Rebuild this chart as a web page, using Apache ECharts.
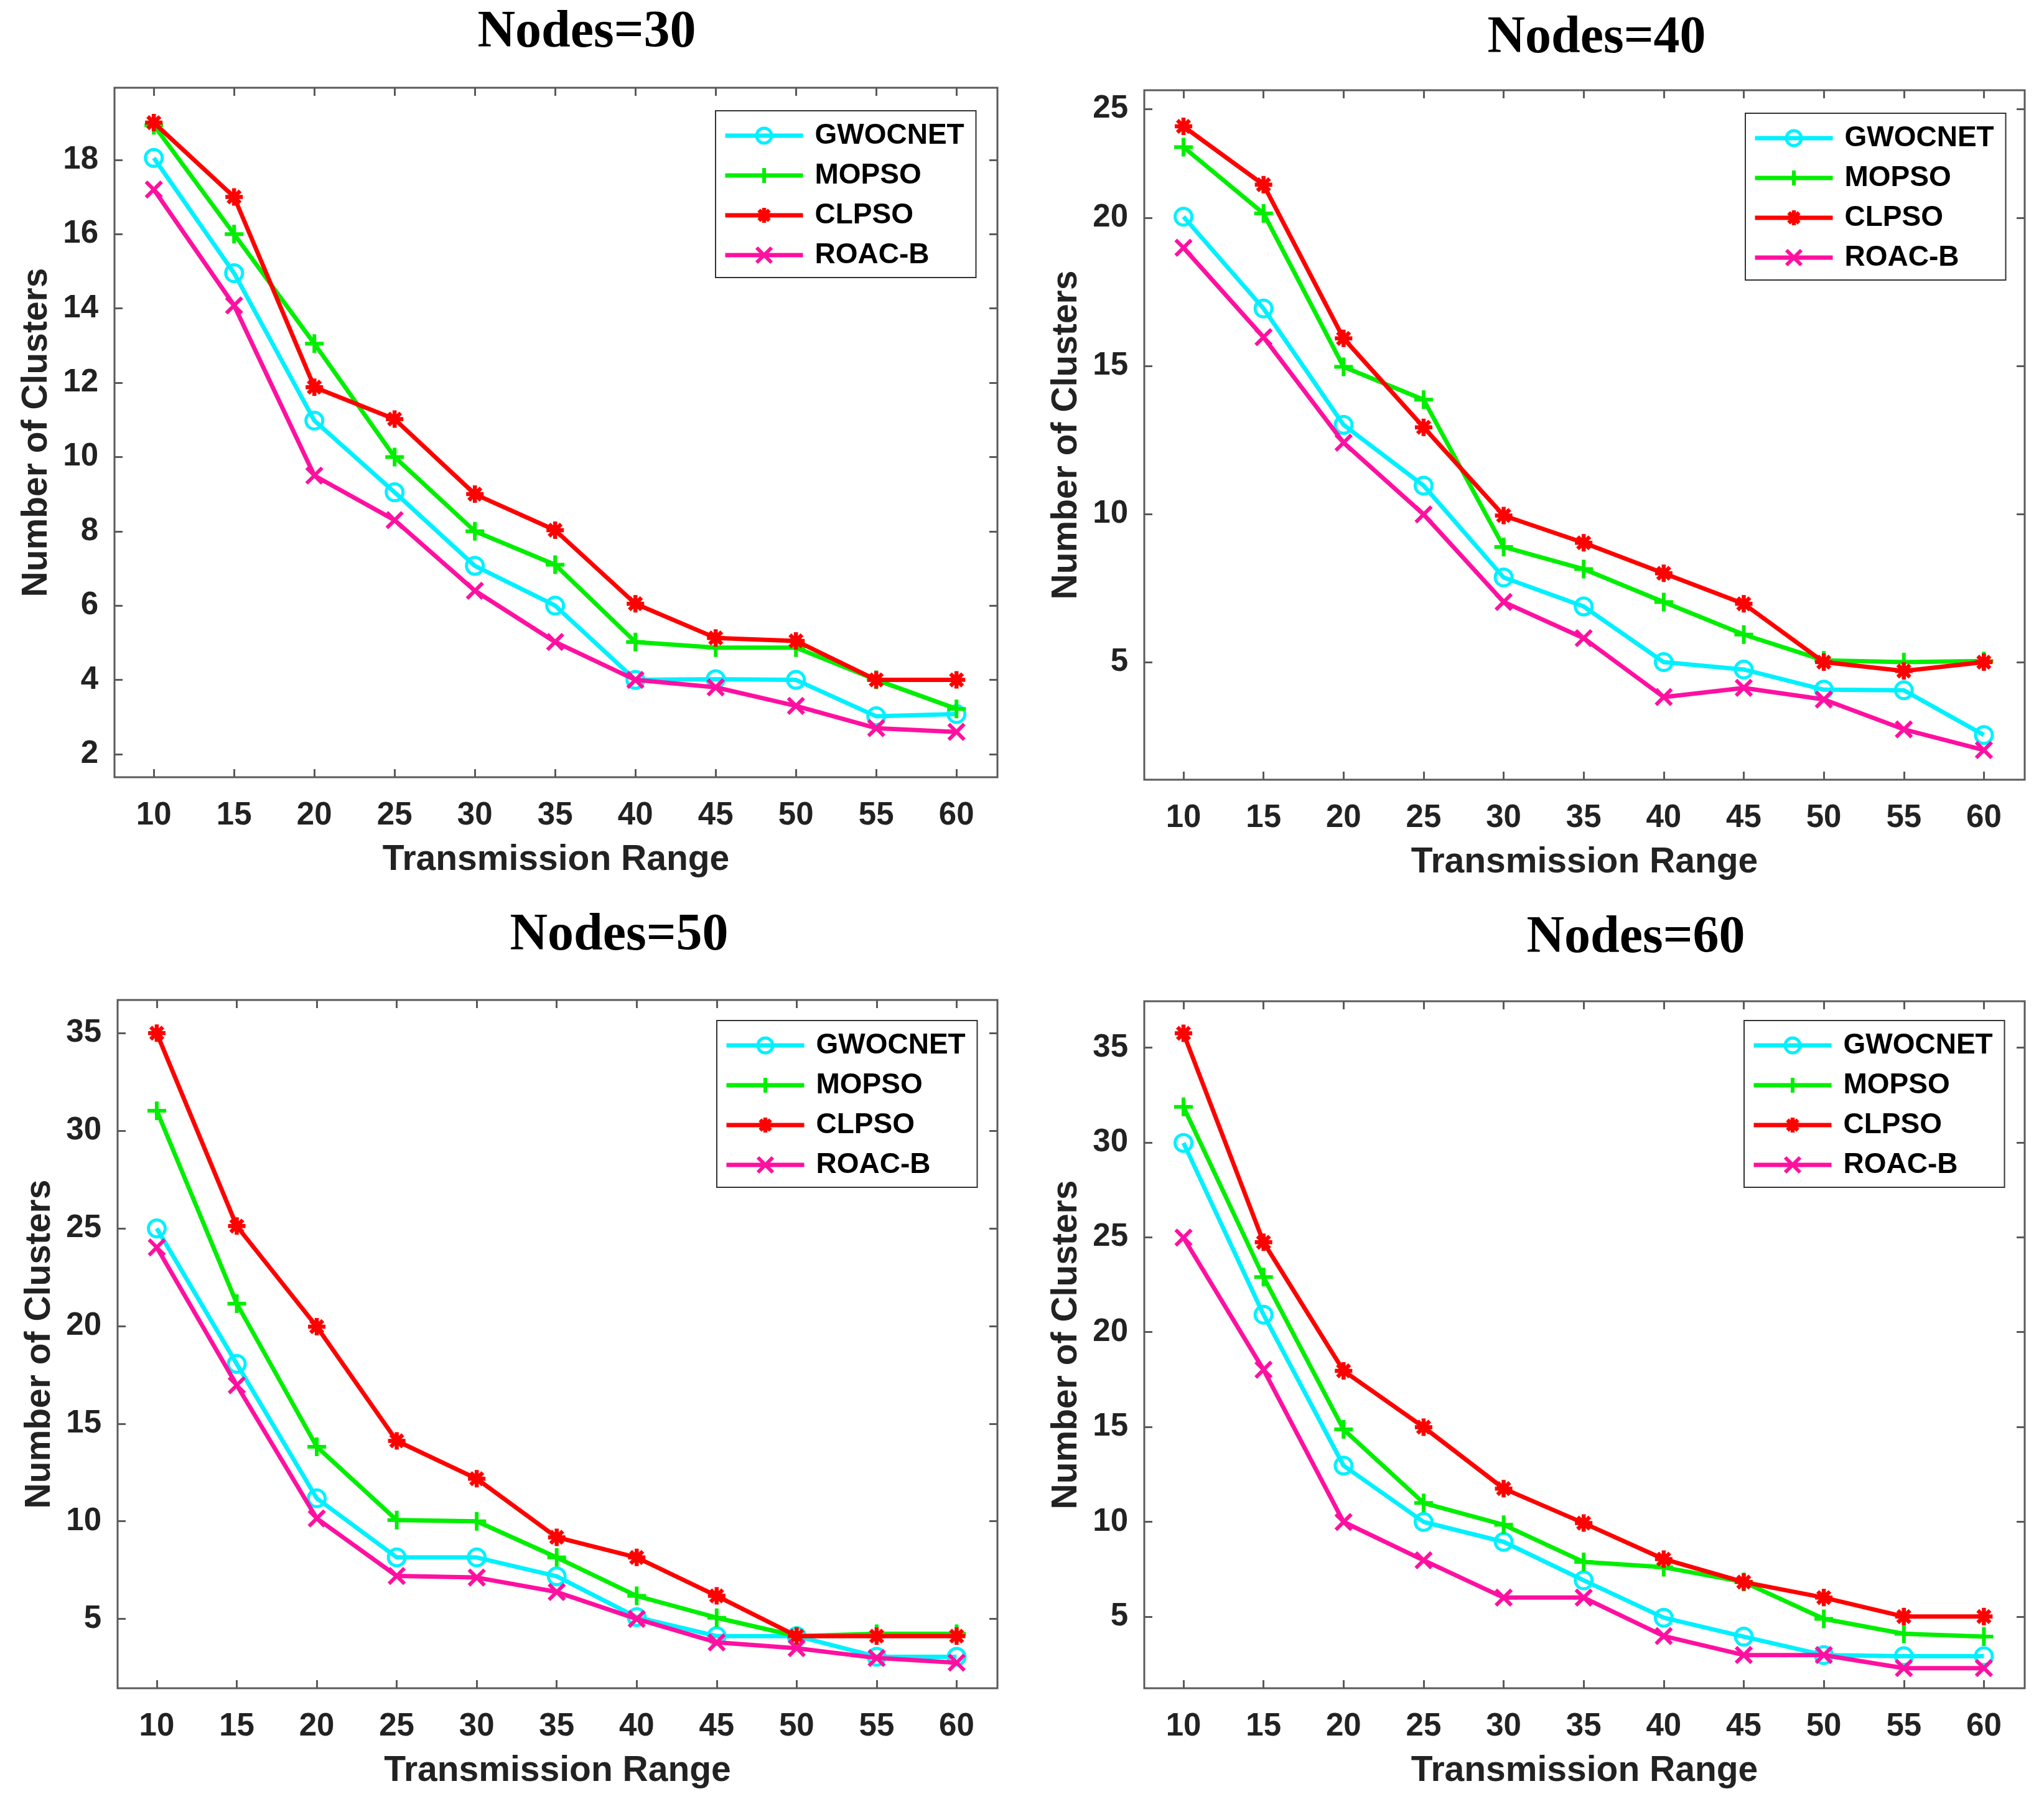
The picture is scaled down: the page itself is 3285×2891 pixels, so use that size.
<!DOCTYPE html>
<html>
<head>
<meta charset="utf-8">
<script src="https://cdn.jsdelivr.net/npm/echarts@6/dist/echarts.min.js"></script>
<style>
html,body{margin:0;padding:0;background:#fff;}
#chart{width:3285px;height:2891px;}
</style>
</head>
<body>
<div id="chart"></div>
<script>
// ---------- DATA ----------
const transmissionRange = [10, 15, 20, 25, 30, 35, 40, 45, 50, 55, 60];
const seriesNames = ['GWOCNET', 'MOPSO', 'CLPSO', 'ROAC-B'];
const panelTitles = ['Nodes=30', 'Nodes=40', 'Nodes=50', 'Nodes=60'];
const xTickValues = [10, 15, 20, 25, 30, 35, 40, 45, 50, 55, 60];

// Nodes = 30
const gwocnet30 = [18.05, 14.95, 10.98, 9.05, 7.07, 6.0, 4.0, 4.02, 4.0, 3.02, 3.08];
const mopso30   = [18.93, 16.0, 13.05, 10.0, 8.0, 7.1, 5.02, 4.87, 4.87, 4.0, 3.22];
const clpso30   = [19.0, 17.0, 11.88, 11.02, 9.0, 8.03, 6.05, 5.13, 5.05, 4.0, 4.0];
const roacb30   = [17.2, 14.08, 9.5, 8.3, 6.4, 5.02, 4.0, 3.8, 3.3, 2.7, 2.6];

// Nodes = 40
const gwocnet40 = [20.04, 16.94, 13.01, 10.96, 7.86, 6.88, 5.0, 4.75, 4.07, 4.05, 2.54];
const mopso40   = [22.39, 20.15, 14.97, 13.86, 8.89, 8.14, 7.03, 5.93, 5.06, 5.0, 5.04];
const clpso40   = [23.09, 21.12, 15.93, 12.93, 9.95, 9.03, 8.0, 6.97, 5.0, 4.7, 5.0];
const roacb40   = [18.99, 15.97, 12.41, 9.99, 7.03, 5.81, 3.82, 4.13, 3.74, 2.73, 2.03];

// Nodes = 50
const gwocnet50 = [25.0, 18.06, 11.18, 8.15, 8.15, 7.18, 5.09, 4.12, 4.12, 3.06, 3.06];
const mopso50   = [31.03, 21.15, 13.82, 10.06, 10.0, 8.15, 6.18, 5.06, 4.12, 4.24, 4.24];
const clpso50   = [35.0, 25.12, 19.97, 14.12, 12.18, 9.18, 8.15, 6.18, 4.12, 4.12, 4.12];
const roacb50   = [24.03, 16.97, 10.15, 7.2, 7.12, 6.38, 5.0, 3.8, 3.5, 3.0, 2.76];

// Nodes = 60
const gwocnet60 = [29.98, 20.92, 12.96, 9.99, 8.94, 6.91, 4.94, 3.94, 2.97, 2.91, 2.91];
const mopso60   = [31.88, 22.9, 14.87, 10.99, 9.84, 7.88, 7.6, 6.82, 4.88, 4.09, 3.94];
const clpso60   = [35.76, 24.74, 17.96, 14.99, 11.75, 9.93, 8.03, 6.82, 6.0, 5.0, 5.0];
const roacb60   = [24.98, 18.02, 9.99, 7.97, 6.0, 6.0, 3.97, 2.97, 2.97, 2.28, 2.28];

// y tick positions and labels per panel
const yTicks30 = [2, 4, 6, 8, 10, 12, 14, 16, 18];
const yTickLabels30 = ['2', '4', '6', '8', '10', '12', '14', '16', '18'];
const yTicks40 = [5, 10, 15, 20, 23.68];
const yTickLabels40 = ['5', '10', '15', '20', '25'];
const yTicks50 = [5, 10, 15, 20, 25, 30, 35];
const yTickLabels50 = ['5', '10', '15', '20', '25', '30', '35'];
const yTicks60 = [5, 10, 15, 20, 25, 30, 35];
const yTickLabels60 = ['5', '10', '15', '20', '25', '30', '35'];

// ---------- LAYOUT / STYLE ----------
const panels = [
  { title: panelTitles[0], values: [gwocnet30, mopso30, clpso30, roacb30], yTicks: yTicks30, yLabels: yTickLabels30,
    yMin: 1.38, yMax: 19.94, grid: { left: 184, top: 141, width: 1419, height: 1108 },
    legend: { left: 1150, top: 178 }, titlePos: [943, 53] },
  { title: panelTitles[1], values: [gwocnet40, mopso40, clpso40, roacb40], yTicks: yTicks40, yLabels: yTickLabels40,
    yMin: 1.03, yMax: 24.31, grid: { left: 1839, top: 145, width: 1415, height: 1108 },
    legend: { left: 2805, top: 182 }, titlePos: [2566, 62] },
  { title: panelTitles[2], values: [gwocnet50, mopso50, clpso50, roacb50], yTicks: yTicks50, yLabels: yTickLabels50,
    yMin: 1.45, yMax: 36.7, grid: { left: 189, top: 1607, width: 1414, height: 1106 },
    legend: { left: 1152, top: 1640 }, titlePos: [995, 1504] },
  { title: panelTitles[3], values: [gwocnet60, mopso60, clpso60, roacb60], yTicks: yTicks60, yLabels: yTickLabels60,
    yMin: 1.22, yMax: 37.45, grid: { left: 1839, top: 1609, width: 1415, height: 1104 },
    legend: { left: 2803, top: 1640 }, titlePos: [2629, 1508] }
];

const colors = ['#00f0ff', '#00ee00', '#ff0000', '#ff10a0'];
const symbols = [
  'circle',
  'path://M0,10 L20,10 M10,0 L10,20',
  'path://M0,10 L20,10 M10,0 L10,20 M3,3 L17,17 M17,3 L3,17',
  'path://M0,0 L20,20 M20,0 L0,20'
];
const symbolSizes = [27, 30, 28, 25];
const borderWidths = [5, 6, 6.5, 6];
const sansFont = '"Liberation Sans", Arial, sans-serif';
const serifFont = '"Liberation Serif", "Times New Roman", serif';
const axisGray = '#5a5a5a';

const option = {
  animation: false,
  backgroundColor: '#ffffff',
  grid: [], xAxis: [], yAxis: [], series: [], legend: [],
  graphic: []
};

panels.forEach((p, i) => {
  option.grid.push(Object.assign({ show: true, borderColor: axisGray, borderWidth: 3, backgroundColor: '#fff', containLabel: false }, p.grid));

  const tickStyle = { show: true, inside: true, length: 13, lineStyle: { color: axisGray, width: 3 } };

  option.xAxis.push({
    type: 'value', gridIndex: i, position: 'bottom', min: 7.55, max: 62.55,
    axisLine: { show: false }, splitLine: { show: false },
    axisTick: Object.assign({ customValues: xTickValues }, tickStyle),
    axisLabel: { customValues: xTickValues, margin: 36, fontSize: 51, fontWeight: 'bold', fontFamily: sansFont, color: '#222' },
    name: 'Transmission Range', nameLocation: 'middle', nameGap: 105,
    nameTextStyle: { fontSize: 57, fontWeight: 'bold', fontFamily: sansFont, color: '#222' }
  });
  option.xAxis.push({
    type: 'value', gridIndex: i, position: 'top', min: 7.55, max: 62.55,
    axisLine: { show: false }, splitLine: { show: false },
    axisTick: Object.assign({ customValues: xTickValues }, tickStyle),
    axisLabel: { show: false, customValues: xTickValues }
  });

  const labels = p.yLabels, ticks = p.yTicks;
  option.yAxis.push({
    type: 'value', gridIndex: i, position: 'left', min: p.yMin, max: p.yMax,
    axisLine: { show: false }, splitLine: { show: false },
    axisTick: Object.assign({ customValues: ticks }, tickStyle),
    axisLabel: {
      customValues: ticks, margin: 26, fontSize: 51, fontWeight: 'bold', fontFamily: sansFont, color: '#222',
      formatter: (v) => { const k = ticks.indexOf(v); return k >= 0 ? labels[k] : String(v); }
    },
    name: 'Number of Clusters', nameLocation: 'middle', nameGap: 96,
    nameTextStyle: { fontSize: 57, fontWeight: 'bold', fontFamily: sansFont, color: '#222' }
  });
  option.yAxis.push({
    type: 'value', gridIndex: i, position: 'right', min: p.yMin, max: p.yMax,
    axisLine: { show: false }, splitLine: { show: false },
    axisTick: Object.assign({ customValues: ticks }, tickStyle),
    axisLabel: { show: false, customValues: ticks }
  });

  p.values.forEach((vals, s) => {
    option.series.push({
      type: 'line', name: seriesNames[s],
      xAxisIndex: i * 2, yAxisIndex: i * 2,
      data: transmissionRange.map((x, j) => [x, vals[j]]),
      symbol: symbols[s], symbolSize: symbolSizes[s], showAllSymbol: true,
      lineStyle: { color: colors[s], width: 7 },
      itemStyle: {
        color: s === 0 ? 'rgba(255,255,255,0)' : colors[s],
        borderColor: colors[s], borderWidth: borderWidths[s]
      },
      emphasis: { disabled: true },
      z: 2 + s
    });
  });

  option.legend.push({
    orient: 'vertical', left: p.legend.left, top: p.legend.top,
    data: seriesNames.map((n, s) => ({
      name: n,
      itemStyle: { borderColor: colors[s], borderWidth: borderWidths[s] },
      lineStyle: { color: colors[s], width: 7 }
    })),
    itemWidth: 125, itemHeight: 30, itemGap: 18,
    padding: [17, 14, 13, 12],
    borderColor: '#333', borderWidth: 2, backgroundColor: '#fff',
    selectedMode: false,
    lineStyle: { width: 7 },
    textStyle: { fontSize: 46, fontWeight: 'bold', fontFamily: sansFont, color: '#000', lineHeight: 30, width: 245, padding: [0, 0, 0, 14] }
  });

  option.graphic.push({
    type: 'text', x: p.titlePos[0], y: p.titlePos[1],
    style: { text: p.title, font: 'bold 84px ' + serifFont, fill: '#000', textAlign: 'center', textVerticalAlign: 'middle' }
  });
});

const chart = echarts.init(document.getElementById('chart'), null, { renderer: 'canvas' });
chart.setOption(option);
</script>
</body>
</html>
